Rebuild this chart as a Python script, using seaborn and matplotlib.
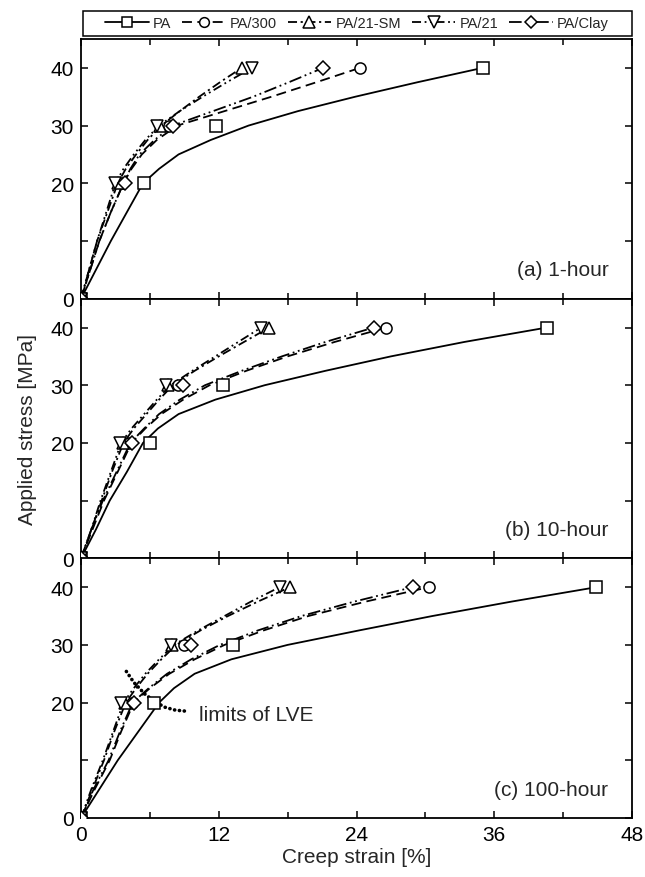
"""Isochronous creep curves - three panels"""

import numpy as np
import pandas as pd
import matplotlib.pyplot as plt
from matplotlib.lines import Line2D
from matplotlib.patches import Rectangle
import seaborn as sns

# stress levels for the fitted curves [MPa]
stress_grid = [0, 5, 10, 15, 20, 22.5, 25, 27.5, 30, 32.5, 35, 37.5, 40]
# stress levels of the measured points [MPa]
stress_pts = [0, 20, 30, 40]

series = ['PA', 'PA/300', 'PA/21-SM', 'PA/21', 'PA/Clay']
panel_names = ['(a) 1-hour', '(b) 10-hour', '(c) 100-hour']

# curve strains [%] at stress_grid
curve_1h = {
    'PA':       [0, 1.3, 2.6, 4.0, 5.4, 6.8, 8.5, 11.3, 14.6, 18.9, 23.9, 29.3, 35.0],
    'PA/300':   [0, 0.8, 1.6, 2.6, 3.7, 4.4, 5.3, 6.6, 8.4, 12.5, 16.6, 20.5, 24.3],
    'PA/21-SM': [0, 0.7, 1.4, 2.3, 3.2, 3.9, 4.8, 5.8, 7.0, 8.6, 10.3, 12.1, 14.0],
    'PA/21':    [0, 0.7, 1.4, 2.2, 3.0, 3.7, 4.6, 5.6, 6.8, 8.6, 10.6, 12.7, 14.9],
    'PA/Clay':  [0, 0.8, 1.6, 2.6, 3.7, 4.3, 5.1, 6.4, 8.0, 11.5, 15.0, 18.1, 21.1],
}
curve_10h = {
    'PA':       [0, 1.3, 2.5, 4.0, 5.4, 6.7, 8.5, 11.7, 16.0, 21.3, 27.0, 33.4, 40.6],
    'PA/300':   [0, 1.0, 2.0, 3.2, 4.4, 5.6, 7.0, 8.9, 11.2, 14.4, 18.0, 22.1, 26.6],
    'PA/21-SM': [0, 0.9, 1.8, 2.7, 3.7, 4.6, 5.7, 6.8, 8.0, 9.9, 12.0, 14.2, 16.4],
    'PA/21':    [0, 0.9, 1.7, 2.6, 3.5, 4.4, 5.5, 6.6, 7.8, 9.7, 11.7, 13.7, 15.7],
    'PA/Clay':  [0, 0.9, 1.9, 3.1, 4.3, 5.5, 6.8, 8.6, 10.8, 14.0, 17.5, 21.3, 25.5],
}
curve_100h = {
    'PA':       [0, 1.6, 3.2, 5.0, 6.8, 8.1, 9.9, 13.1, 18.0, 24.2, 30.6, 37.5, 44.9],
    'PA/300':   [0, 1.2, 2.5, 3.5, 4.6, 6.0, 7.7, 9.9, 12.5, 15.9, 19.8, 24.8, 30.3],
    'PA/21-SM': [0, 1.0, 2.0, 2.9, 3.9, 4.8, 5.8, 7.0, 8.3, 10.4, 12.8, 15.4, 18.2],
    'PA/21':    [0, 0.9, 1.9, 2.8, 3.7, 4.6, 5.6, 6.8, 8.1, 10.2, 12.5, 14.8, 17.3],
    'PA/Clay':  [0, 1.1, 2.4, 3.4, 4.5, 5.9, 7.5, 9.6, 12.1, 15.4, 19.2, 23.8, 28.9],
}

# measured strains [%] at stress_pts
pts_1h = {
    'PA':       [0, 5.5, 11.8, 35.0],
    'PA/300':   [0, 3.6, 7.7, 24.3],
    'PA/21-SM': [0, 3.2, 6.9, 14.0],
    'PA/21':    [0, 3.0, 6.6, 14.9],
    'PA/Clay':  [0, 3.8, 8.0, 21.1],
}
pts_10h = {
    'PA':       [0, 6.0, 12.4, 40.6],
    'PA/300':   [0, 4.2, 8.45, 26.6],
    'PA/21-SM': [0, 3.7, 7.6, 16.4],
    'PA/21':    [0, 3.4, 7.4, 15.7],
    'PA/Clay':  [0, 4.4, 8.9, 25.5],
}
pts_100h = {
    'PA':       [0, 6.4, 13.2, 44.9],
    'PA/300':   [0, 4.4, 9.0, 30.3],
    'PA/21-SM': [0, 3.8, 7.9, 18.2],
    'PA/21':    [0, 3.5, 7.8, 17.3],
    'PA/Clay':  [0, 4.6, 9.55, 28.9],
}

# "limits of LVE" dotted curve (100-hour panel)
lve_strain = [3.95, 4.6, 5.55, 6.4, 7.3, 8.2, 9.2]
lve_stress = [25.4, 23.5, 21.5, 20.2, 19.2, 18.7, 18.5]

curves = [curve_1h, curve_10h, curve_100h]
points = [pts_1h, pts_10h, pts_100h]

styles = {
    'PA':       dict(ls='-', marker='s'),
    'PA/300':   dict(ls=(0, (5.5, 3)), marker='o'),
    'PA/21-SM': dict(ls=(0, (5, 2, 1.2, 2)), marker='^'),
    'PA/21':    dict(ls=(0, (5, 2, 1, 2, 1, 2)), marker='v'),
    'PA/Clay':  dict(ls=(0, (7, 2, 1, 2, 1, 2)), marker='D'),
}
msize = {'s': 8, 'o': 8, '^': 9, 'v': 9, 'D': 7}

sns.set_theme(style='ticks')
plt.rcParams['font.family'] = ['Liberation Sans', 'DejaVu Sans']

fig = plt.figure(figsize=(6.45, 8.78), dpi=100)
left, width = 0.1256, 0.8543
h = 0.29575
bottoms = [0.0672 + 2 * h, 0.0672 + h, 0.0672]
axes = [fig.add_axes([left, b, width, h]) for b in bottoms]

for i, ax in enumerate(axes):
    for s in series:
        st = styles[s]
        cdf = pd.DataFrame({'strain': curves[i][s], 'stress': stress_grid})
        sns.lineplot(data=cdf, x='strain', y='stress', ax=ax, color='black',
                     lw=1.3, linestyle=st['ls'], sort=False, estimator=None)
        pdf = pd.DataFrame({'strain': points[i][s], 'stress': stress_pts})
        sns.lineplot(data=pdf, x='strain', y='stress', ax=ax, color='black',
                     linestyle='', marker=st['marker'], ms=msize[st['marker']],
                     mfc='white', mec='black', mew=1.1, sort=False,
                     estimator=None, zorder=3)

    ax.set_xlim(0, 48)
    ax.set_ylim(0, 45)
    ax.set_xticks([0, 12, 24, 36, 48])
    ax.set_xticks([6, 18, 30, 42], minor=True)
    ax.set_yticks([0, 10, 20, 30, 40])
    ax.set_yticklabels(['0', '', '20', '30', '40'])
    ax.tick_params(which='both', direction='in', top=True, right=True,
                   width=1.1, labelsize=15, pad=5, colors='black')
    ax.tick_params(which='major', length=5)
    ax.tick_params(which='minor', length=4)
    for sp in ax.spines.values():
        sp.set_linewidth(1.3)
        sp.set_color('black')
    ax.set_xlabel('')
    ax.set_ylabel('')
    ax.text(0.957, 0.075, panel_names[i], transform=ax.transAxes,
            ha='right', va='bottom', fontsize=15)
    if i < 2:
        ax.tick_params(labelbottom=False)

# limits of LVE
sns.lineplot(x=lve_strain, y=lve_stress, ax=axes[2], color='black', lw=2.6,
             linestyle=(0, (0.05, 1.3)), dash_capstyle='round', sort=False,
             estimator=None)
axes[2].text(10.3, 18.0, 'limits of LVE', ha='left', va='center', fontsize=15)

axes[1].set_ylabel('Applied stress [MPa]', fontsize=15, labelpad=10)
axes[2].set_xlabel('Creep strain [%]', fontsize=15, labelpad=2)

# legend box above the panels
fig.patches.append(Rectangle((left + 0.003, 0.9579), width - 0.003, 0.0285,
                             transform=fig.transFigure, fill=False,
                             edgecolor='black', lw=1.1))
handles = [Line2D([], [], color='black', lw=1.3, linestyle=styles[s]['ls'],
                  marker=styles[s]['marker'], ms=msize[styles[s]['marker']] - 1,
                  mfc='white', mec='black', mew=1.1) for s in series]
fig.legend(handles, series, loc='center', ncol=5, mode='expand',
           bbox_to_anchor=(0.1628, 0.9579, 0.7814, 0.0285),
           borderaxespad=0, borderpad=0, fontsize=10.5, handlelength=3.0,
           handletextpad=0.3, columnspacing=0.3, frameon=False)

fig.savefig('out.png', dpi=100)
